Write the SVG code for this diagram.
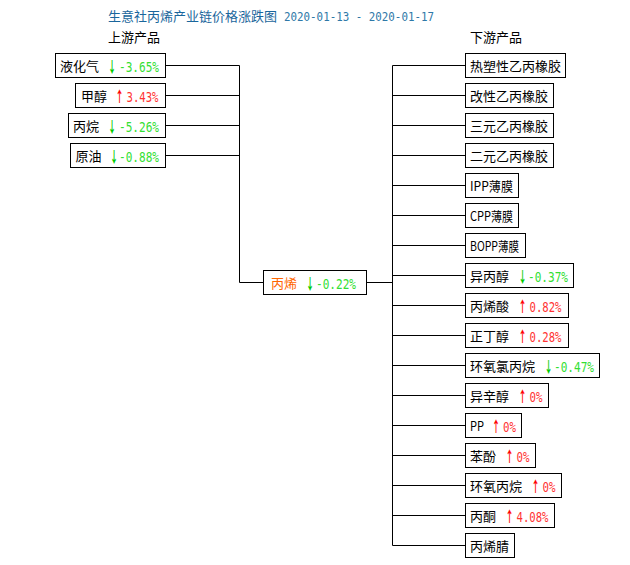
<svg xmlns="http://www.w3.org/2000/svg" width="630" height="565" viewBox="0 0 630 565">
<style>
.bx{fill:#fff;stroke:#000;stroke-width:1}
.nm{font-family:"Noto Sans CJK SC","Liberation Sans",sans-serif;font-size:13px;fill:#000}
.v{font-family:"DejaVu Sans Mono","Liberation Mono",monospace;font-size:14px}
.ar{font-family:"Noto Sans CJK SC","DejaVu Sans",sans-serif;font-size:15px;font-weight:700}
.up{fill:#f00}
.upv{fill:#f33}
.dn{fill:#0c0}
.dnv{fill:#33e033}
.ttl{font-family:"Noto Sans CJK SC","Liberation Sans",sans-serif;font-size:13px;fill:#1a669c}
.dt{font-family:"DejaVu Sans Mono","Liberation Mono",monospace;font-size:13px;fill:#2f78a8}
.cn{fill:none;stroke:#000;stroke-width:1}
</style>
<rect width="630" height="565" fill="#fff"/>
<text class="ttl" x="108" y="21">生意社丙烯产业链价格涨跌图</text>
<text class="dt" x="284" y="21" textLength="150" lengthAdjust="spacingAndGlyphs">2020-01-13 - 2020-01-17</text>
<text class="nm" x="108" y="42">上游产品</text>
<text class="nm" x="470" y="42">下游产品</text>
<g id="connectors">
<path class="cn" d="M165.5 65.5H239.5M165.5 95.5H239.5M165.5 125.5H239.5M165.5 155.5H239.5M239.5 65.5V282.5H263.5M366.5 282.5H392.5M392.5 65.5V545.5M392.5 65.5H465.5M392.5 95.5H465.5M392.5 125.5H465.5M392.5 155.5H465.5M392.5 185.5H465.5M392.5 215.5H465.5M392.5 245.5H465.5M392.5 275.5H465.5M392.5 305.5H465.5M392.5 335.5H465.5M392.5 365.5H465.5M392.5 395.5H465.5M392.5 425.5H465.5M392.5 455.5H465.5M392.5 485.5H465.5M392.5 515.5H465.5M392.5 545.5H465.5"/>
</g>
<g id="up1"><rect class="bx" x="55.5" y="53.5" width="110" height="24"/><text class="nm" x="60" y="71">液化气</text><text class="ar dn" transform="translate(108 72) scale(0.54 1)">↓</text><text class="v dnv" x="119" y="72" textLength="40" lengthAdjust="spacingAndGlyphs">-3.65%</text></g>
<g id="up2"><rect class="bx" x="75.5" y="83.5" width="90" height="24"/><text class="nm" x="81" y="101">甲醇</text><text class="ar up" transform="translate(115.5 102) scale(0.54 1)">↑</text><text class="v upv" x="126.5" y="102" textLength="32" lengthAdjust="spacingAndGlyphs">3.43%</text></g>
<g id="up3"><rect class="bx" x="68.5" y="113.5" width="97" height="24"/><text class="nm" x="73" y="131">丙烷</text><text class="ar dn" transform="translate(108 132) scale(0.54 1)">↓</text><text class="v dnv" x="119" y="132" textLength="40" lengthAdjust="spacingAndGlyphs">-5.26%</text></g>
<g id="up4"><rect class="bx" x="70.5" y="143.5" width="95" height="24"/><text class="nm" x="75.5" y="161">原油</text><text class="ar dn" transform="translate(110 162) scale(0.54 1)">↓</text><text class="v dnv" x="119" y="162" textLength="40" lengthAdjust="spacingAndGlyphs">-0.88%</text></g>
<g id="center"><rect class="bx" x="263.5" y="270.5" width="103" height="24"/><text class="nm" x="271" y="288" style="fill:#f60">丙烯</text><text class="ar dn" transform="translate(306 289) scale(0.54 1)">↓</text><text class="v dnv" x="316" y="289" textLength="40" lengthAdjust="spacingAndGlyphs">-0.22%</text></g>
<g id="d1"><rect class="bx" x="465.5" y="53.5" width="100" height="24"/><text class="nm" x="470" y="71">热塑性乙丙橡胶</text></g>
<g id="d2"><rect class="bx" x="465.5" y="83.5" width="88" height="24"/><text class="nm" x="470" y="101">改性乙丙橡胶</text></g>
<g id="d3"><rect class="bx" x="465.5" y="113.5" width="88" height="24"/><text class="nm" x="470" y="131">三元乙丙橡胶</text></g>
<g id="d4"><rect class="bx" x="465.5" y="143.5" width="88" height="24"/><text class="nm" x="470" y="161">二元乙丙橡胶</text></g>
<g id="d5"><rect class="bx" x="465.5" y="173.5" width="53" height="24"/><text class="nm" x="470" y="191" textLength="43" lengthAdjust="spacingAndGlyphs">IPP薄膜</text></g>
<g id="d6"><rect class="bx" x="465.5" y="203.5" width="53" height="24"/><text class="nm" x="470" y="221" textLength="43" lengthAdjust="spacingAndGlyphs">CPP薄膜</text></g>
<g id="d7"><rect class="bx" x="465.5" y="233.5" width="60" height="24"/><text class="nm" x="470" y="251" textLength="49" lengthAdjust="spacingAndGlyphs">BOPP薄膜</text></g>
<g id="d8"><rect class="bx" x="465.5" y="263.5" width="108" height="24"/><text class="nm" x="470" y="281">异丙醇</text><text class="ar dn" transform="translate(518.5 282) scale(0.54 1)">↓</text><text class="v dnv" x="528" y="282" textLength="40" lengthAdjust="spacingAndGlyphs">-0.37%</text></g>
<g id="d9"><rect class="bx" x="465.5" y="293.5" width="103" height="24"/><text class="nm" x="470" y="311">丙烯酸</text><text class="ar up" transform="translate(518.5 312) scale(0.54 1)">↑</text><text class="v upv" x="529.5" y="312" textLength="32" lengthAdjust="spacingAndGlyphs">0.82%</text></g>
<g id="d10"><rect class="bx" x="465.5" y="323.5" width="103" height="24"/><text class="nm" x="470" y="341">正丁醇</text><text class="ar up" transform="translate(518.5 342) scale(0.54 1)">↑</text><text class="v upv" x="529.5" y="342" textLength="32" lengthAdjust="spacingAndGlyphs">0.28%</text></g>
<g id="d11"><rect class="bx" x="465.5" y="353.5" width="134" height="24"/><text class="nm" x="470" y="371">环氧氯丙烷</text><text class="ar dn" transform="translate(544.5 372) scale(0.54 1)">↓</text><text class="v dnv" x="554" y="372" textLength="40" lengthAdjust="spacingAndGlyphs">-0.47%</text></g>
<g id="d12"><rect class="bx" x="465.5" y="383.5" width="83" height="24"/><text class="nm" x="470" y="401">异辛醇</text><text class="ar up" transform="translate(518.5 402) scale(0.54 1)">↑</text><text class="v upv" x="529.5" y="402" textLength="13" lengthAdjust="spacingAndGlyphs">0%</text></g>
<g id="d13"><rect class="bx" x="465.5" y="413.5" width="56" height="24"/><text class="nm" x="470" y="431" textLength="14" lengthAdjust="spacingAndGlyphs">PP</text><text class="ar up" transform="translate(492 432) scale(0.54 1)">↑</text><text class="v upv" x="503" y="432" textLength="13" lengthAdjust="spacingAndGlyphs">0%</text></g>
<g id="d14"><rect class="bx" x="465.5" y="443.5" width="70" height="24"/><text class="nm" x="470" y="461">苯酚</text><text class="ar up" transform="translate(505.5 462) scale(0.54 1)">↑</text><text class="v upv" x="516.5" y="462" textLength="13" lengthAdjust="spacingAndGlyphs">0%</text></g>
<g id="d15"><rect class="bx" x="465.5" y="473.5" width="96" height="24"/><text class="nm" x="470" y="491">环氧丙烷</text><text class="ar up" transform="translate(531.5 492) scale(0.54 1)">↑</text><text class="v upv" x="542.5" y="492" textLength="13" lengthAdjust="spacingAndGlyphs">0%</text></g>
<g id="d16"><rect class="bx" x="465.5" y="503.5" width="89" height="24"/><text class="nm" x="470" y="521">丙酮</text><text class="ar up" transform="translate(505.5 522) scale(0.54 1)">↑</text><text class="v upv" x="516.5" y="522" textLength="32" lengthAdjust="spacingAndGlyphs">4.08%</text></g>
<g id="d17"><rect class="bx" x="465.5" y="533.5" width="49" height="24"/><text class="nm" x="470" y="551">丙烯腈</text></g>
</svg>
